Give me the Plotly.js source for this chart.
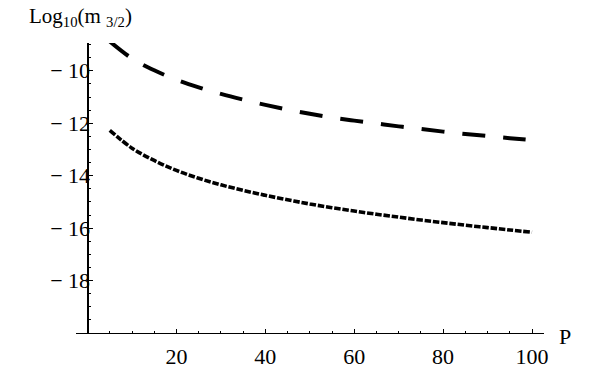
<!DOCTYPE html>
<html>
<head>
<meta charset="utf-8">
<script src="https://cdn.plot.ly/plotly-3.0.1.min.js"></script>
<style>
  body { margin: 0; background: #fff; }
  #plot { width: 599px; height: 371px; }
</style>
</head>
<body>
<div id="plot"></div>
<script>
// P values shared by both curves
var p_values = [5, 10, 15, 20, 25, 30, 35, 40, 45, 50, 55, 60, 65, 70, 75, 80, 85, 90, 95, 100];

// upper (dashed) curve, log10 m_3/2
var upper_curve = [-8.88, -9.53, -9.98, -10.34, -10.63, -10.88, -11.10, -11.30, -11.48, -11.64,
                   -11.78, -11.90, -12.01, -12.12, -12.22, -12.32, -12.41, -12.49, -12.57, -12.64];

// lower (dotted) curve
var lower_curve = [-12.27, -12.95, -13.42, -13.80, -14.10, -14.35, -14.56, -14.75, -14.92, -15.08,
                   -15.22, -15.35, -15.47, -15.58, -15.69, -15.79, -15.89, -15.98, -16.07, -16.16];

var x_ticks = [20, 40, 60, 80, 100];
var y_ticks = [-18, -16, -14, -12, -10];
var y_tick_labels = ['\u2212 18', '\u2212 16', '\u2212 14', '\u2212 12', '\u2212 10'];

var serif = 'Liberation Serif';

var data = [
    {
	name : 'upper',
	type : 'scatter',
	mode : 'lines',
	x : p_values,
	y : upper_curve,
	line : { color : 'black', width : 4, dash : '23px,18px', shape : 'spline' }
    },
    {
	name : 'lower',
	type : 'scatter',
	mode : 'lines',
	x : p_values,
	y : lower_curve,
	line : { color : 'black', width : 3.6, dash : '6.5px,1.8px', shape : 'spline' }
    }
];

var xaxis = { range : [-2.6, 102.7], showgrid : false, zeroline : false,
	      showline : true, linecolor : 'black', linewidth : 1.3,
	      tickvals : x_ticks, ticks : 'inside', ticklen : 4, tickwidth : 1, tickcolor : 'black',
	      minor : { dtick : 5, tick0 : 0, ticks : 'inside', ticklen : 2, tickcolor : 'black', tickwidth : 1 },
	      ticklabelstandoff : 3,
	      tickfont : { family : serif, size : 22, color : 'black' } };

var yaxis = { range : [-20, -8.94], showgrid : false, zeroline : false,
	      anchor : 'free', position : 0.0245,
	      showline : true, linecolor : 'black', linewidth : 1.3,
	      tickvals : y_ticks, ticktext : y_tick_labels,
	      ticks : 'inside', ticklen : 4, tickwidth : 1, tickcolor : 'black',
	      minor : { dtick : 0.5, tick0 : -20, ticks : 'inside', ticklen : 2, tickcolor : 'black', tickwidth : 1 },
	      ticklabelstandoff : -7,
	      tickfont : { family : serif, size : 22, color : 'black' } };

var layout = { width : 599, height : 371,
	       margin : { l : 75.5, r : 55, t : 43, b : 38 },
	       paper_bgcolor : 'white', plot_bgcolor : 'white',
	       showlegend : false,
	       font : { family : serif, color : 'black' },
	       xaxis : xaxis,
	       yaxis : yaxis,
	       annotations : [
		   { text : 'P', xref : 'paper', yref : 'paper', x : 1.045, y : -0.012,
		     xanchor : 'center', yanchor : 'middle', showarrow : false,
		     font : { family : serif, size : 22, color : 'black' } },
		   { text : 'Log<sub>10</sub>(m <sub>3/2</sub>)', xref : 'paper', yref : 'paper', x : -0.104, y : 1.088,
		     xanchor : 'left', yanchor : 'middle', showarrow : false,
		     font : { family : serif, size : 21, color : 'black' } }
	       ] };

Plotly.newPlot('plot', data, layout, { staticPlot : true });
</script>
</body>
</html>
